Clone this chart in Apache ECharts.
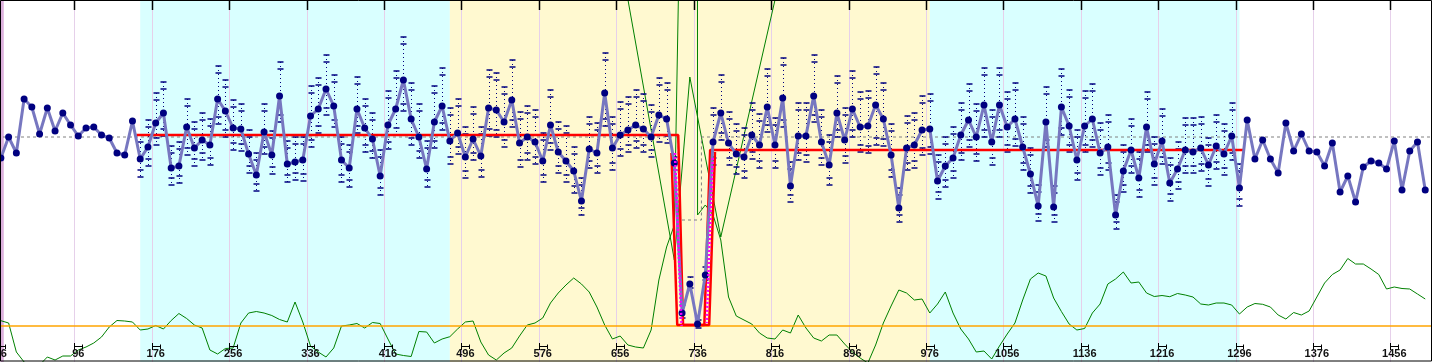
<!DOCTYPE html>
<html><head><meta charset="utf-8">
<script src="https://cdn.jsdelivr.net/npm/echarts@6/dist/echarts.min.js"></script>
<style>html,body{margin:0;padding:0;background:#fff}#c{width:1433px;height:362px}</style>
</head><body><div id="c"></div>
<script>
// ---- data ----
const X_START = 20, X_STEP = 8;
const LOG_RATIO = [
-0.21,0.00,-0.16,0.38,0.30,0.03,0.29,0.06,0.24,0.12,
0.01,0.09,0.10,0.02,-0.01,-0.16,-0.18,0.16,-0.22,-0.10,
0.14,0.24,-0.31,-0.29,0.10,-0.11,-0.03,-0.08,0.38,0.26,
0.09,0.08,-0.17,-0.38,0.05,-0.18,0.41,-0.27,-0.25,-0.23,
0.21,0.28,0.48,0.31,-0.23,-0.31,0.28,0.09,-0.02,-0.39,
0.12,0.28,0.57,0.18,0.00,-0.32,0.15,0.31,-0.04,0.04,
-0.20,-0.02,-0.19,0.29,0.27,0.15,0.37,-0.06,0.00,-0.05,
-0.24,0.12,-0.15,-0.24,-0.34,-0.64,-0.12,-0.16,0.44,-0.11,
0.02,0.07,0.12,0.08,0.00,0.22,0.18,-0.26,-1.76,-1.47,
-1.87,-1.38,-0.05,0.24,-0.06,-0.17,-0.20,0.02,-0.08,0.30,
-0.08,0.39,-0.49,0.01,0.01,0.41,-0.05,-0.28,0.24,-0.03,
0.28,0.10,0.11,0.32,0.18,-0.18,-0.71,-0.11,-0.08,0.07,
0.08,-0.44,-0.29,-0.21,0.02,0.17,0.00,0.32,-0.05,0.32,
0.10,0.18,-0.10,-0.37,-0.69,0.15,-0.70,0.30,0.11,-0.23,
0.11,0.18,-0.16,-0.10,-0.78,-0.34,-0.13,-0.41,0.10,-0.27,
-0.04,-0.46,-0.32,-0.13,-0.15,-0.11,-0.28,-0.09,-0.17,0.01,
-0.51,0.17,-0.22,-0.03,-0.22,-0.36,0.14,-0.14,0.03,-0.14,
-0.15,-0.29,-0.06,-0.55,-0.39,-0.65,-0.30,-0.24,-0.26,-0.32,
-0.04,-0.53,-0.14,-0.05,-0.53];
const ERR_FIRST = 18;
const ERR_HI = [
0.02,0.17,0.44,0.55,-0.09,-0.05,0.38,0.15,0.24,0.18,
0.71,0.57,0.37,0.33,0.07,-0.16,0.33,0.06,0.75,-0.04,
0.00,0.00,0.51,0.59,0.82,0.62,0.00,-0.08,0.60,0.38,
0.24,-0.13,0.46,0.66,1.00,0.54,0.33,-0.04,0.51,0.69,
0.29,0.38,0.10,0.30,0.10,0.67,0.64,0.50,0.77,0.25,
0.31,0.27,0.04,0.47,0.15,0.11,-0.10,-0.41,0.20,0.14,
0.84,0.20,0.35,0.40,0.47,0.43,0.32,0.59,0.54,-0.20,
-1.68,-1.40,-1.83,-1.30,0.29,0.62,0.25,0.13,0.09,0.34,
0.23,0.68,0.19,0.79,-0.25,0.34,0.34,0.82,0.27,0.02,
0.61,0.29,0.66,0.45,0.46,0.70,0.54,0.13,-0.51,0.21,
0.24,0.41,0.43,-0.18,0.00,0.10,0.34,0.53,0.33,0.69,
0.27,0.69,0.45,0.54,0.20,-0.11,-0.48,0.50,-0.49,0.68,
0.47,0.07,0.46,0.53,0.14,0.22,-0.58,-0.08,0.18,-0.15,
0.45,0.00,0.28,-0.21,-0.05,0.19,0.19,0.20,-0.01,0.22,
0.13,0.34,-0.27];
const ERR_LO = [
-0.40,-0.29,-0.08,0.01,-0.48,-0.46,-0.18,-0.29,-0.23,-0.28,
0.13,0.00,-0.13,-0.14,-0.36,-0.54,-0.17,-0.37,0.15,-0.45,
-0.43,-0.44,-0.10,0.04,0.22,0.10,-0.45,-0.50,0.04,-0.15,
-0.21,-0.58,-0.12,0.02,0.26,-0.08,-0.21,-0.50,-0.11,0.07,
-0.27,-0.17,-0.41,-0.23,-0.40,0.01,0.00,-0.10,0.10,-0.30,
-0.23,-0.27,-0.45,-0.13,-0.36,-0.45,-0.56,-0.78,-0.31,-0.36,
0.11,-0.33,-0.19,-0.15,-0.11,-0.15,-0.20,-0.05,-0.06,-0.33,
-1.81,-1.51,-1.91,-1.43,-0.28,-0.03,-0.28,-0.37,-0.41,-0.22,
-0.31,0.05,-0.31,0.10,-0.65,-0.23,-0.25,0.15,-0.28,-0.48,
0.00,-0.26,0.00,-0.15,-0.16,-0.08,-0.09,-0.40,-0.85,-0.33,
-0.31,-0.18,-0.17,-0.62,-0.50,-0.41,-0.23,-0.10,-0.24,0.00,
-0.28,0.00,-0.15,-0.09,-0.33,-0.56,-0.84,-0.10,-0.85,0.02,
-0.15,-0.43,-0.15,-0.10,-0.38,-0.33,-0.92,-0.55,-0.36,-0.60,
-0.15,-0.48,-0.27,-0.64,-0.52,-0.36,-0.36,-0.34,-0.49,-0.32,
-0.38,-0.23,-0.69];
const SCORE = [
0.53,0.3,-2.6,-3.6,-4.2,-3.9,-3.1,-3.4,-3.0,-3.0,
-2.4,-2.1,-1.7,-1.1,-0.1,0.55,0.5,0.4,-0.4,-0.3,
0.05,-0.3,0.55,1.25,0.75,0.1,-0.2,-2.4,-2.8,-2.25,
-2.2,0.3,1.3,1.45,1.3,1.05,0.65,0.4,2.4,0.4,
-2.0,-2.6,-3.1,-2.2,0.0,0.1,0.25,-0.2,0.35,0.25,
-1.3,-2.8,-2.95,-3.05,-0.55,-0.6,-1.7,-1.3,-1.07,-0.3,
0.4,0.5,-1.6,-2.9,-3.4,-2.7,-2.2,-1.0,0.1,0.3,
0.8,2.3,3.3,4.1,4.8,4.2,3.4,1.9,0.1,-1.3,
-1.0,-1.9,-2.1,-2.2,-0.4,4.6,7.9,10.1,53.6,2000,
11.1,12.1,11.1,8.6,2.9,1.0,0.6,0.2,-0.7,-1.2,
-1.3,-0.4,-0.7,1.1,-0.2,-1.2,-1.5,-0.9,-0.9,-1.8,
-2.6,-3.2,-3.7,-1.9,0.3,2.0,3.6,3.3,2.6,2.7,
1.3,2.2,3.4,1.3,-0.3,-1.3,-2.6,-2.5,-3.3,-2.0,
-0.8,0.3,2.6,4.7,5.3,5.0,2.8,1.45,0.2,-0.4,
-0.25,1.3,2.2,4.2,4.7,5.4,4.3,4.4,3.3,2.95,
3.05,2.93,3.25,3.1,2.9,2.2,2.1,2.3,2.3,2.1,
1.2,1.9,2.25,2.17,1.9,1.1,0.7,1.35,1.1,1.5,
2.9,4.3,5.15,5.6,6.75,6.2,6.2,5.7,5.15,3.7,
3.9,3.75,3.7,3.2,2.7];
// breakpoint profile (sparse)
const PROFILE_POS = [660, 716, 732, 764, 820, 828];
const PROFILE_VAL = [37.0, 6.6, 24.9, 8.9, 32.6, 36.0];
const SCORE_LEVEL = 0;
const TICKS = [16,96,176,256,336,416,496,576,656,736,816,896,976,1056,1136,1216,1296,1376,1456];
const BANDS = [[16,23,'#dcb0dc'],[164,484,'#d9ffff'],[484,980,'#fff9d0'],[980,1300,'#d9ffff']];
const SEG_MAIN = [[160,0.02],[720,0.02],[725,-1.88],[747,-1.88],[753,-0.13],[1304,-0.13]];
const SEG_OUTER = [[713,-0.16],[719,-1.88],[752,-1.88],[758,-0.15]];
const CI_LEFT = [[716.6,-0.16],[723.5,-1.89]];
const CI_RIGHT = [[755.6,-0.21],[749.4,-1.86]];
const REFERENCE = [[16,0],[720,0],[720,-0.83],[744,-0.83],[744,0],[1499,0]];

// ---- build ----
const xs = LOG_RATIO.map((_, i) => X_START + X_STEP * i);
const ratioData = LOG_RATIO.map((v, i) => [xs[i], v]);
const errData = ERR_HI.map((h, j) => [xs[j + ERR_FIRST], h, ERR_LO[j]]);
const scoreData = SCORE.map((v, i) => [xs[i], v]);
const profileData = PROFILE_POS.map((p, i) => [p, PROFILE_VAL[i]]);

const chart = echarts.init(document.getElementById('c'), null, {renderer: 'canvas'});
const NAVY = '#000080';
chart.setOption({
  animation: false,
  grid: {left: 0, right: 1, top: 0, bottom: 0},
  xAxis: {type: 'value', min: 19.1, max: 1499, show: false},
  yAxis: [
    {type: 'value', min: -2.25, max: 1.37, show: false},
    {type: 'value', min: -3.6, max: 32.6, show: false}
  ],
  series: [
    { // background bands
      type: 'custom', z: 0, silent: true, clip: true,
      data: BANDS.map(b => [b[0], b[1]]),
      renderItem: (p, api) => {
        const a = api.coord([api.value(0), 0]);
        const b = api.coord([api.value(1), 0]);
        return {type: 'rect', shape: {x: a[0], y: 0, width: b[0] - a[0], height: 362},
          style: {fill: BANDS[p.dataIndex][2]}};
      }
    },
    { // vertical grid lines
      type: 'custom', z: 1, silent: true,
      data: TICKS.map(t => [t]),
      renderItem: (p, api) => {
        const x = Math.round(api.coord([api.value(0), 0])[0]) + 0.5;
        return {type: 'line', shape: {x1: x, y1: 0, x2: x, y2: 362},
          style: {stroke: '#e6d0ea', lineWidth: 1}};
      }
    },
    { type: 'line', z: 2, yAxisIndex: 1, data: scoreData, showSymbol: false, silent: true,
      lineStyle: {color: '#008000', width: 1} },
    { type: 'line', z: 2, yAxisIndex: 1, data: profileData, showSymbol: false, silent: true,
      lineStyle: {color: '#008000', width: 1} },
    { type: 'line', z: 3, yAxisIndex: 1, data: [[16, SCORE_LEVEL], [1499, SCORE_LEVEL]], showSymbol: false, silent: true,
      lineStyle: {color: '#ffa500', width: 1.5} },
    { type: 'line', z: 3, data: REFERENCE, showSymbol: false, silent: true,
      lineStyle: {color: '#808080', width: 1, type: [3, 3]} },
    { // error bars
      type: 'custom', z: 4, silent: true, data: errData,
      renderItem: (p, api) => {
        const x = Math.round(api.coord([api.value(0), 0])[0]) + 0.5;
        const yh = api.coord([api.value(0), api.value(1)])[1];
        const yl = api.coord([api.value(0), api.value(2)])[1];
        const cap = (y) => ({type: 'line', shape: {x1: x - 3, y1: y, x2: x + 3, y2: y},
          style: {stroke: NAVY, lineWidth: 1.5}});
        const kids = [
          {type: 'line', shape: {x1: x, y1: yh, x2: x, y2: yl}, style: {stroke: NAVY, lineWidth: 1, lineDash: [1, 3]}},
          cap(yh), cap(yl)
        ];
        if (yl - yh > 24) { kids.push(cap(yh + 7), cap(yl - 7)); }
        return {type: 'group', children: kids};
      }
    },
    { type: 'line', z: 5, data: SEG_OUTER, showSymbol: false, silent: true,
      lineStyle: {color: '#ff0000', width: 2.5} },
    { type: 'line', z: 5, data: SEG_MAIN, showSymbol: false, silent: true,
      lineStyle: {color: '#ff0000', width: 2.5} },
    { type: 'line', z: 6, data: ratioData, symbol: 'circle', symbolSize: 7, showAllSymbol: true, silent: true,
      itemStyle: {color: NAVY}, lineStyle: {color: '#7777c0', width: 3} },
    { type: 'line', z: 7, data: CI_LEFT, showSymbol: false, silent: true,
      lineStyle: {color: '#ff00ff', width: 2.5, type: [2, 2]} },
    { type: 'line', z: 7, data: CI_RIGHT, showSymbol: false, silent: true,
      lineStyle: {color: '#ff00ff', width: 2.5, type: [2, 2]} },
    { // axis ticks and labels
      type: 'custom', z: 8, silent: true, clip: false,
      data: TICKS.map(t => [t]),
      renderItem: (p, api) => {
        const t = api.value(0);
        const x = Math.round(api.coord([t, 0])[0]) + 0.5;
        const x8 = Math.round(api.coord([t + 8, 0])[0]) + 0.5;
        const xc = api.coord([t + 4, 0])[0];
        const st = {stroke: '#000', lineWidth: 1};
        return {type: 'group', children: [
          {type: 'line', shape: {x1: x, y1: 0, x2: x, y2: 10}, style: {stroke: '#000', lineWidth: 1.5}},
          {type: 'line', shape: {x1: x, y1: 343, x2: x, y2: 350}, style: st},
          {type: 'line', shape: {x1: x, y1: 346.5, x2: x8, y2: 346.5}, style: st},
          {type: 'line', shape: {x1: x8, y1: 344.5, x2: x8, y2: 349}, style: st},
          {type: 'text', style: {text: String(t), x: xc, y: 348.5, align: 'center', verticalAlign: 'top',
            font: 'bold 11px "Liberation Sans", Arial, sans-serif', fill: '#111'}}
        ]};
      }
    }
  ],
  graphic: [{type: 'rect', z: 100, silent: true, shape: {x: 0.5, y: 0.5, width: 1431, height: 360.5},
    style: {fill: 'none', stroke: '#000', lineWidth: 1}}]
});
</script></body></html>
